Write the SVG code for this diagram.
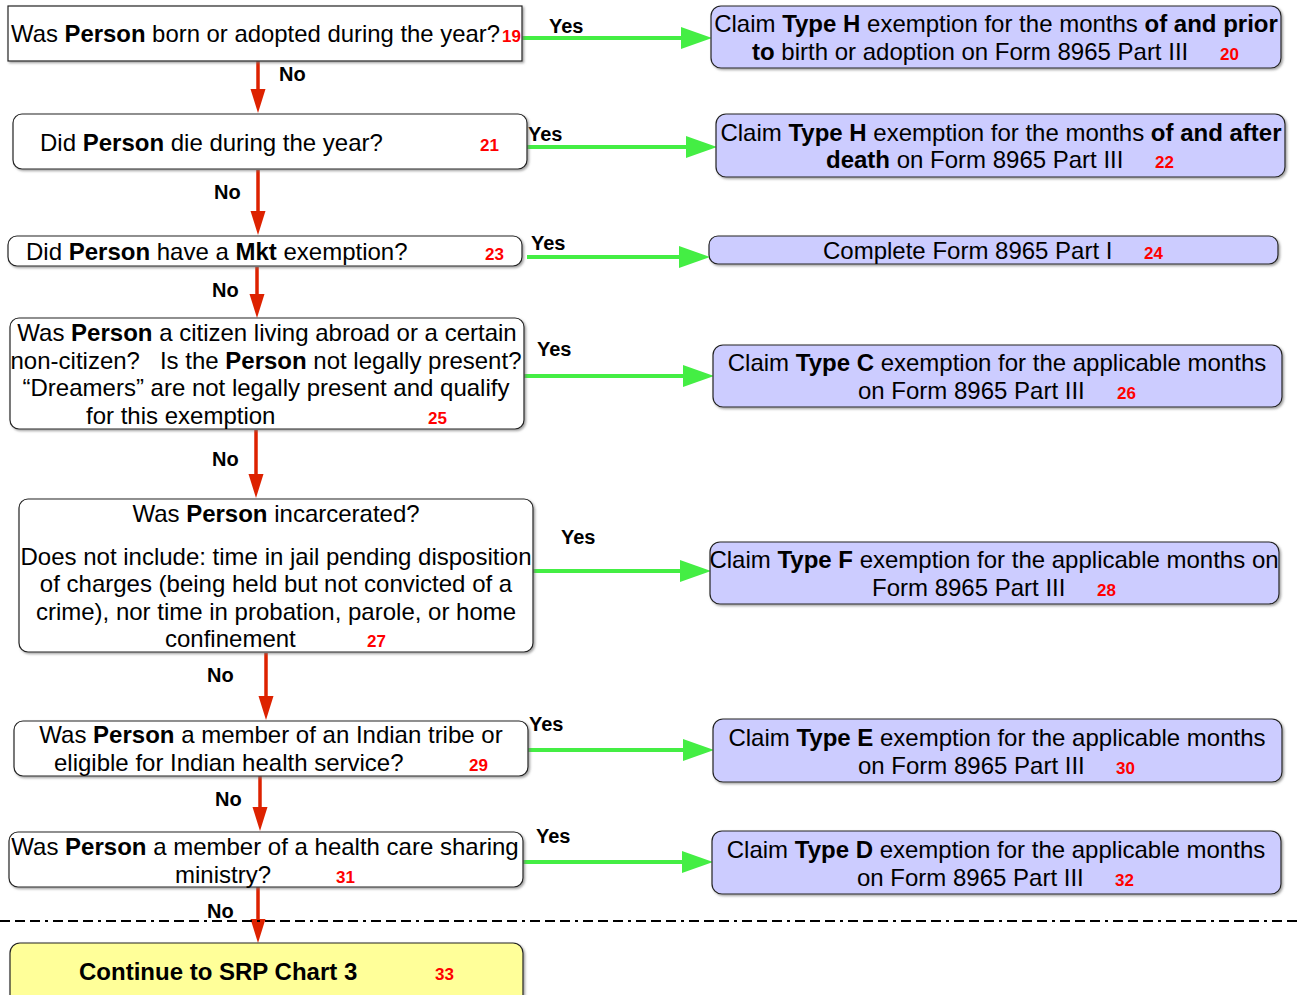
<svg xmlns="http://www.w3.org/2000/svg" width="1297" height="995" viewBox="0 0 1297 995">
<defs>
<filter id="sh" x="-5%" y="-10%" width="110%" height="130%">
<feDropShadow dx="1.5" dy="1.5" stdDeviation="1" flood-color="#777" flood-opacity="0.7"/>
</filter>
</defs>
<style>
text{font-family:"Liberation Sans",Arial,sans-serif;fill:#000}
.t{font-size:24px}
.c{text-anchor:middle}
.b{font-weight:bold}
.n{font-size:17px;font-weight:bold;fill:#ff0000}
.lbl{font-size:20px;font-weight:bold}
.q{fill:#fff;stroke:#222;stroke-width:1.2;filter:url(#sh)}
.a{fill:#ccccff;stroke:#222;stroke-width:1.2;filter:url(#sh)}
.y{fill:#ffff99;stroke:#222;stroke-width:1.2;filter:url(#sh)}
.g{stroke:#44ee44;stroke-width:4;fill:none}
.gh{fill:#44ee44}
.r{stroke:#dd2200;stroke-width:3.5;fill:none}
.rh{fill:#dd2200}
</style>
<rect width="1297" height="995" fill="#fff"/>

<g id="connectors">
<line class="g" x1="522" y1="38" x2="684" y2="38"/><polygon class="gh" points="681,27 712,38 681,49"/>
<line class="g" x1="527" y1="147" x2="689" y2="147"/><polygon class="gh" points="686,136 717,147 686,158"/>
<line class="g" x1="527" y1="257" x2="682" y2="257"/><polygon class="gh" points="679,246 710,257 679,268"/>
<line class="g" x1="524" y1="376" x2="686" y2="376"/><polygon class="gh" points="683,365 714,376 683,387"/>
<line class="g" x1="533" y1="571" x2="683" y2="571"/><polygon class="gh" points="680,560 711,571 680,582"/>
<line class="g" x1="528" y1="750" x2="686" y2="750"/><polygon class="gh" points="683,739 714,750 683,761"/>
<line class="g" x1="523" y1="862" x2="685" y2="862"/><polygon class="gh" points="682,851 713,862 682,873"/>

<line class="r" x1="258" y1="60" x2="258" y2="92"/><polygon class="rh" points="250.5,89 258,113 265.5,89"/>
<line class="r" x1="258" y1="170" x2="258" y2="214"/><polygon class="rh" points="250.5,211 258,235 265.5,211"/>
<line class="r" x1="257" y1="267" x2="257" y2="297"/><polygon class="rh" points="249.5,294 257,318 264.5,294"/>
<line class="r" x1="256" y1="430" x2="256" y2="477"/><polygon class="rh" points="248.5,474 256,498 263.5,474"/>
<line class="r" x1="266" y1="653" x2="266" y2="699"/><polygon class="rh" points="258.5,696 266,720 273.5,696"/>
<line class="r" x1="260" y1="776" x2="260" y2="810"/><polygon class="rh" points="252.5,807 260,831 267.5,807"/>
<line class="r" x1="258" y1="887" x2="258" y2="922"/><polygon class="rh" points="250.5,919 258,943 265.5,919"/>

<text class="lbl" x="549" y="33">Yes</text>
<text class="lbl" x="528" y="141">Yes</text>
<text class="lbl" x="531" y="250">Yes</text>
<text class="lbl" x="537" y="356">Yes</text>
<text class="lbl" x="561" y="544">Yes</text>
<text class="lbl" x="529" y="731">Yes</text>
<text class="lbl" x="536" y="843">Yes</text>

<text class="lbl" x="279" y="81">No</text>
<text class="lbl" x="214" y="199">No</text>
<text class="lbl" x="212" y="297">No</text>
<text class="lbl" x="212" y="466">No</text>
<text class="lbl" x="207" y="682">No</text>
<text class="lbl" x="215" y="806">No</text>
<text class="lbl" x="207" y="918">No</text>
</g>

<line id="divider" x1="0" y1="921" x2="1297" y2="921" stroke="#000" stroke-width="2" stroke-dasharray="10 5 10 5 10 5 3 5"/>

<g id="q19">
<rect class="q" x="8" y="6" width="514" height="55"/>
<text class="t" x="11" y="42" textLength="489" lengthAdjust="spacingAndGlyphs">Was <tspan class="b">Person</tspan> born or adopted during the year?</text>
<text class="n" x="502" y="42">19</text>
</g>

<g id="q21">
<rect class="q" x="13" y="114" width="514" height="55" rx="9"/>
<text class="t" x="40" y="151">Did <tspan class="b">Person</tspan> die during the year?</text>
<text class="n" x="480" y="151">21</text>
</g>

<g id="q23">
<rect class="q" x="8" y="236" width="514" height="30" rx="9"/>
<text class="t" x="26" y="260">Did <tspan class="b">Person</tspan> have a <tspan class="b">Mkt</tspan> exemption?</text>
<text class="n" x="485" y="260">23</text>
</g>

<g id="q25">
<rect class="q" x="10" y="318" width="514" height="111" rx="9"/>
<text class="t c" x="267" y="341">Was <tspan class="b">Person</tspan> a citizen living abroad or a certain</text>
<text class="t c" x="266" y="369" xml:space="preserve">non-citizen?   Is the <tspan class="b">Person</tspan> not legally present?</text>
<text class="t c" x="266" y="396">“Dreamers” are not legally present and qualify</text>
<text class="t" x="86" y="424">for this exemption</text>
<text class="n" x="428" y="424">25</text>
</g>

<g id="q27">
<rect class="q" x="19" y="499" width="514" height="153" rx="9"/>
<text class="t c" x="276" y="522">Was <tspan class="b">Person</tspan> incarcerated?</text>
<text class="t c" x="276" y="565">Does not include: time in jail pending disposition</text>
<text class="t c" x="276" y="592">of charges (being held but not convicted of a</text>
<text class="t c" x="276" y="620">crime), nor time in probation, parole, or home</text>
<text class="t" x="165" y="647">confinement</text>
<text class="n" x="367" y="647">27</text>
</g>

<g id="q29">
<rect class="q" x="14" y="721" width="514" height="55" rx="9"/>
<text class="t c" x="271" y="743">Was <tspan class="b">Person</tspan> a member of an Indian tribe or</text>
<text class="t" x="54" y="771">eligible for Indian health service?</text>
<text class="n" x="469" y="771">29</text>
</g>

<g id="q31">
<rect class="q" x="9" y="832" width="514" height="55" rx="9"/>
<text class="t c" x="265" y="855">Was <tspan class="b">Person</tspan> a member of a health care sharing</text>
<text class="t" x="175" y="883">ministry?</text>
<text class="n" x="336" y="883">31</text>
</g>

<g id="n33">
<rect class="y" x="10" y="943" width="513" height="64" rx="10"/>
<text class="t b" x="79" y="980">Continue to SRP Chart 3</text>
<text class="n" x="435" y="980">33</text>
</g>

<g id="n20">
<rect class="a" x="711" y="6" width="570" height="62" rx="10"/>
<text class="t c" x="996" y="32">Claim <tspan class="b">Type H</tspan> exemption for the months <tspan class="b">of and prior</tspan></text>
<text class="t" x="752" y="60"><tspan class="b">to</tspan> birth or adoption on Form 8965 Part III</text>
<text class="n" x="1220" y="60">20</text>
</g>

<g id="n22">
<rect class="a" x="716" y="114" width="569" height="63" rx="10"/>
<text class="t c" x="1001" y="141">Claim <tspan class="b">Type H</tspan> exemption for the months <tspan class="b">of and after</tspan></text>
<text class="t" x="826" y="168"><tspan class="b">death</tspan> on Form 8965 Part III</text>
<text class="n" x="1155" y="168">22</text>
</g>

<g id="n24">
<rect class="a" x="709" y="236" width="569" height="28" rx="9"/>
<text class="t" x="823" y="259">Complete Form 8965 Part I</text>
<text class="n" x="1144" y="259">24</text>
</g>

<g id="n26">
<rect class="a" x="713" y="345" width="569" height="62" rx="10"/>
<text class="t c" x="997" y="371">Claim <tspan class="b">Type C</tspan> exemption for the applicable months</text>
<text class="t" x="858" y="399">on Form 8965 Part III</text>
<text class="n" x="1117" y="399">26</text>
</g>

<g id="n28">
<rect class="a" x="710" y="542" width="569" height="62" rx="10"/>
<text class="t c" x="994" y="568">Claim <tspan class="b">Type F</tspan> exemption for the applicable months on</text>
<text class="t" x="872" y="596">Form 8965 Part III</text>
<text class="n" x="1097" y="596">28</text>
</g>

<g id="n30">
<rect class="a" x="713" y="719" width="569" height="63" rx="10"/>
<text class="t c" x="997" y="746">Claim <tspan class="b">Type E</tspan> exemption for the applicable months</text>
<text class="t" x="858" y="774">on Form 8965 Part III</text>
<text class="n" x="1116" y="774">30</text>
</g>

<g id="n32">
<rect class="a" x="712" y="831" width="569" height="63" rx="10"/>
<text class="t c" x="996" y="858">Claim <tspan class="b">Type D</tspan> exemption for the applicable months</text>
<text class="t" x="857" y="886">on Form 8965 Part III</text>
<text class="n" x="1115" y="886">32</text>
</g>
</svg>
